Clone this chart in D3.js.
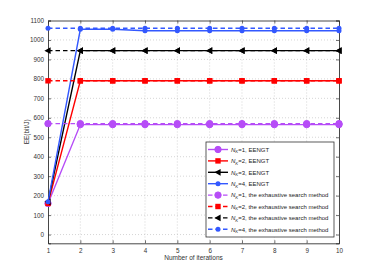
<!DOCTYPE html>
<html>
<head>
<meta charset="utf-8">
<script src="https://d3js.org/d3.v7.min.js"></script>
<style>
  body { margin: 0; background: #fff; }
  text { font-family: "Liberation Sans", Arial, sans-serif; }
</style>
</head>
<body>
<div id="container"></div>
<script>
// iterations on the x axis
const iterations = [1, 2, 3, 4, 5, 6, 7, 8, 9, 10];
// EENGT results per N_K
const eengt1 = [160, 565, 565, 565, 565, 565, 565, 565, 565, 565];
const eengt2 = [160, 790, 790, 790, 790, 790, 790, 790, 790, 790];
const eengt3 = [168, 945, 945, 945, 945, 945, 945, 945, 945, 945];
const eengt4 = [168, 1055, 1055, 1047, 1047, 1047, 1047, 1047, 1047, 1047];
// exhaustive search per N_K
const exh1 = [570, 570, 570, 570, 570, 570, 570, 570, 570, 570];
const exh2 = [790, 790, 790, 790, 790, 790, 790, 790, 790, 790];
const exh3 = [945, 945, 945, 945, 945, 945, 945, 945, 945, 945];
const exh4 = [1060, 1060, 1060, 1060, 1060, 1060, 1060, 1060, 1060, 1060];
const yTicks = [0, 100, 200, 300, 400, 500, 600, 700, 800, 900, 1000, 1100];
const legendLabels = ["=1, EENGT", "=2, EENGT", "=3, EENGT", "=4, EENGT",
  "=1, the exhaustive search method", "=2, the exhaustive search method",
  "=3, the exhaustive search method", "=4, the exhaustive search method"];

const colors = ["#b64cf7", "#ff0000", "#000000", "#3358ff"];
const shapes = ["circle", "square", "triangle", "dot"];

const series = [
  { v: eengt1, c: 0, dash: false }, { v: eengt2, c: 1, dash: false },
  { v: eengt3, c: 2, dash: false }, { v: eengt4, c: 3, dash: false },
  { v: exh1, c: 0, dash: true }, { v: exh2, c: 1, dash: true },
  { v: exh3, c: 2, dash: true }, { v: exh4, c: 3, dash: true }
];

const w = 374, h = 274;
const pLeft = 48, pRight = 339, pTop = 20.5, pBottom = 243.3;

const svg = d3.select('#container').append('svg')
  .attr('width', w).attr('height', h);

const x = d3.scaleLinear().domain([1, 10]).range([pLeft, pRight]);
const y = d3.scaleLinear().domain([-45, 1100]).range([pBottom, pTop]);

// grid
svg.append('g').selectAll('line').data(iterations.slice(1, -1)).enter().append('line')
  .attr('x1', d => x(d)).attr('x2', d => x(d)).attr('y1', pTop).attr('y2', pBottom)
  .attr('stroke', '#bbb').attr('stroke-width', 0.6).attr('stroke-dasharray', '1,2');
svg.append('g').selectAll('line').data(yTicks.slice(0, -1)).enter().append('line')
  .attr('x1', pLeft).attr('x2', pRight).attr('y1', d => y(d)).attr('y2', d => y(d))
  .attr('stroke', '#bbb').attr('stroke-width', 0.6).attr('stroke-dasharray', '1,2');

const xAxis = d3.axisBottom(x).tickValues(iterations).tickSize(-3).tickPadding(5).tickFormat(d3.format('d'));
const yAxis = d3.axisLeft(y).tickValues(yTicks).tickSize(-3).tickPadding(4).tickFormat(d3.format('d'));
const xTop = d3.axisTop(x).tickValues(iterations).tickSize(-3).tickFormat('');
const yRight = d3.axisRight(y).tickValues(yTicks).tickSize(-3).tickFormat('');

function styleAxis(g) {
  g.select('.domain').attr('stroke', '#333').attr('stroke-width', 0.9);
  g.selectAll('.tick line').attr('stroke', '#333').attr('stroke-width', 0.7);
  g.selectAll('.tick text').attr('font-size', 6.3).attr('fill', '#333')
    .attr('font-family', '"Liberation Sans", Arial, sans-serif');
}
svg.append('g').attr('transform', `translate(0,${pBottom})`).call(xAxis).call(styleAxis);
svg.append('g').attr('transform', `translate(${pLeft},0)`).call(yAxis).call(styleAxis);
svg.append('g').attr('transform', `translate(0,${pTop})`).call(xTop).call(styleAxis);
svg.append('g').attr('transform', `translate(${pRight},0)`).call(yRight).call(styleAxis);

function marker(g, shape, color, cx, cy) {
  if (shape === 'circle') {
    g.append('circle').attr('cx', cx).attr('cy', cy).attr('r', 3.2)
      .attr('fill', color).attr('stroke', color);
  } else if (shape === 'square') {
    g.append('rect').attr('x', cx - 2.7).attr('y', cy - 2.7).attr('width', 5.4).attr('height', 5.4)
      .attr('fill', color);
  } else if (shape === 'triangle') {
    g.append('path').attr('d', `M${cx - 3.6},${cy}L${cx + 2.6},${cy - 3.4}L${cx + 2.6},${cy + 3.4}Z`)
      .attr('fill', color);
  } else {
    g.append('circle').attr('cx', cx).attr('cy', cy).attr('r', 2.5).attr('fill', color);
  }
}

const line = d3.line().x((d, i) => x(iterations[i])).y(d => y(d));
const plot = svg.append('g');
series.forEach(s => {
  plot.append('path').datum(s.v).attr('d', line)
    .attr('fill', 'none').attr('stroke', colors[s.c]).attr('stroke-width', 1.4)
    .attr('stroke-dasharray', s.dash ? '4.5,3' : null);
  s.v.forEach((v, i) => marker(plot, shapes[s.c], colors[s.c], x(iterations[i]), y(v)));
});

// labels
svg.append('text').attr('x', (pLeft + pRight) / 2).attr('y', 259.5).attr('text-anchor', 'middle')
  .attr('font-size', 6.5).attr('fill', '#333').text('Number of iterations');
svg.append('text').attr('transform', `translate(29,${(pTop + pBottom) / 2}) rotate(-90)`)
  .attr('text-anchor', 'middle').attr('font-size', 6.5).attr('fill', '#333').text('EE(bit/J)');

// legend
const lg = svg.append('g');
lg.append('rect').attr('x', 206).attr('y', 142).attr('width', 128).attr('height', 95)
  .attr('fill', '#fff').attr('stroke', '#333').attr('stroke-width', 0.8);
series.forEach((s, i) => {
  const ly = 149.5 + i * 11.4;
  lg.append('line').attr('x1', 208).attr('x2', 228).attr('y1', ly).attr('y2', ly)
    .attr('stroke', colors[s.c]).attr('stroke-width', 1.4)
    .attr('stroke-dasharray', s.dash ? '4.5,3' : null);
  marker(lg, shapes[s.c], colors[s.c], 218, ly);
  const t = lg.append('text').attr('x', 231).attr('y', ly + 2.2).attr('font-size', 6).attr('fill', '#222');
  t.append('tspan').attr('font-style', 'italic').text('N');
  t.append('tspan').attr('font-style', 'italic').attr('font-size', 4.3).attr('dy', 1.6).text('K');
  t.append('tspan').attr('dy', -1.6).text(legendLabels[i]);
});
</script>
</body>
</html>
